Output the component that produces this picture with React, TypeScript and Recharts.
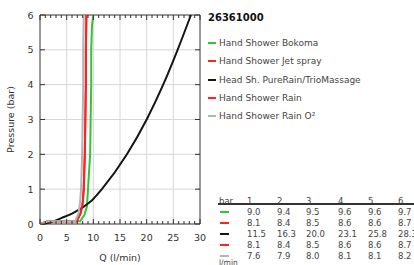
import React from "react";
import { LineChart, Line, XAxis, YAxis, CartesianGrid, ReferenceArea } from "recharts";

// pressure (bar) / flow (l/min)
const bokomaQ = [0, 1.5, 7.5, 8.3, 8.8, 9.0, 9.4, 9.5, 9.6, 9.6, 9.75, 10.0];
const bokomaP = [0, 0.08, 0.08, 0.25, 0.5, 1, 2, 3, 4, 5, 5.7, 6];
const jetQ = [0, 1.5, 6.9, 7.6, 8.0, 8.2, 8.4, 8.5, 8.6, 8.6, 8.7];
const jetP = [0, 0.08, 0.08, 0.3, 0.6, 1, 2, 3, 4, 5, 6];
const pureRainQ = [0, 2, 4, 6, 8.2, 10, 11.6, 16.3, 20.0, 23.1, 25.8, 28.3];
const pureRainP = [0, 0.05, 0.17, 0.3, 0.5, 0.72, 1, 2, 3, 4, 5, 6];
const rainQ = [0, 1.5, 6.9, 7.6, 8.0, 8.2, 8.4, 8.5, 8.6, 8.6, 8.7];
const rainP = [0, 0.08, 0.08, 0.3, 0.6, 1, 2, 3, 4, 5, 6];
const rainO2Q = [0, 1.5, 6.6, 7.2, 7.5, 7.7, 7.9, 8.0, 8.1, 8.1, 8.2];
const rainO2P = [0, 0.08, 0.08, 0.3, 0.6, 1, 2, 3, 4, 5, 6];

// table at the bottom right
const tableBars = ["1", "2", "3", "4", "5", "6"];
const bokomaRow = ["9.0", "9.4", "9.5", "9.6", "9.6", "9.7"];
const jetRow = ["8.1", "8.4", "8.5", "8.6", "8.6", "8.7"];
const pureRainRow = ["11.5", "16.3", "20.0", "23.1", "25.8", "28.3"];
const rainRow = ["8.1", "8.4", "8.5", "8.6", "8.6", "8.7"];
const rainO2Row = ["7.6", "7.9", "8.0", "8.1", "8.1", "8.2"];

const xTicks = Array.from({ length: 31 }, (_, i) => i);
const yTicks = [0, 1, 2, 3, 4, 5, 6];

const FONT = "'DejaVu Sans', sans-serif";
const TOP = 15;
const BOTTOM = 224;
const LEFT = 40;
const RIGHT = 200;

const series = [
  { name: "Hand Shower Bokoma", color: "#33c433", q: bokomaQ, p: bokomaP, row: bokomaRow },
  { name: "Hand Shower Jet spray", color: "#ff2222", q: jetQ, p: jetP, row: jetRow },
  { name: "Head Sh. PureRain/TrioMassage", color: "#151515", q: pureRainQ, p: pureRainP, row: pureRainRow },
  { name: "Hand Shower Rain", color: "#ff2222", q: rainQ, p: rainP, row: rainRow },
  { name: "Hand Shower Rain O²", color: "#b4b4b4", q: rainO2Q, p: rainO2P, row: rainO2Row },
];

const toPoints = (q: number[], p: number[]) => q.map((v, i) => ({ q: v, p: p[i] }));

const XTick = (props: any) => {
  const { x, payload } = props;
  const v = payload.value as number;
  const major = v % 5 === 0;
  const len = major ? 5 : 3;
  return (
    <g>
      <line x1={x} x2={x} y1={BOTTOM} y2={BOTTOM - len} stroke="#333" />
      <line x1={x} x2={x} y1={TOP} y2={TOP + len} stroke="#333" />
      {major && (
        <text x={x} y={241} textAnchor="middle" fontSize={9.5} fill="#333" fontFamily={FONT}>
          {v}
        </text>
      )}
    </g>
  );
};

const YTick = (props: any) => {
  const { y, payload } = props;
  return (
    <g>
      <line x1={LEFT} x2={LEFT + 5} y1={y} y2={y} stroke="#333" />
      <line x1={RIGHT - 5} x2={RIGHT} y1={y} y2={y} stroke="#333" />
      <text x={33.5} y={y + 3.5} textAnchor="end" fontSize={9.5} fill="#333" fontFamily={FONT}>
        {payload.value}
      </text>
    </g>
  );
};

const gridX = [5, 10, 15, 20, 25].map((v) => LEFT + (v / 30) * (RIGHT - LEFT));
const gridY = [1, 2, 3, 4, 5].map((v) => BOTTOM - (v / 6) * (BOTTOM - TOP));

const textStyle: React.CSSProperties = {
  position: "absolute",
  fontFamily: FONT,
  fontSize: 9,
  lineHeight: "12px",
  color: "#444",
  whiteSpace: "nowrap",
};

const colX = [247, 277, 306, 338, 368, 398];
const rowY = [211.5, 222.5, 233.5, 244.5, 256];

export default function App() {
  return (
    <div
      style={{
        position: "absolute",
        left: 0,
        top: 0,
        width: 414,
        height: 265,
        overflow: "hidden",
        background: "#fff",
      }}
    >
      <LineChart width={414} height={265} margin={{ top: TOP, right: 414 - RIGHT, bottom: 0, left: 0 }}>
        <CartesianGrid stroke="#d6d6d6" verticalPoints={gridX} horizontalPoints={gridY} />
        <XAxis
          type="number"
          dataKey="q"
          domain={[0, 30]}
          ticks={xTicks}
          interval={0}
          height={265 - BOTTOM}
          axisLine={false}
          tickLine={false}
          tick={<XTick />}
          label={{ value: "Q (l/min)", position: "insideBottom", offset: 4, fontSize: 9.5, fill: "#333", fontFamily: FONT }}
        />
        <YAxis
          type="number"
          dataKey="p"
          domain={[0, 6]}
          ticks={yTicks}
          width={LEFT}
          axisLine={false}
          tickLine={false}
          tick={<YTick />}
          label={{
            value: "Pressure (bar)",
            angle: -90,
            position: "insideLeft",
            offset: 11,
            fontSize: 9.5,
            fill: "#333",
            fontFamily: FONT,
            style: { textAnchor: "middle" },
          }}
        />
        {series.map((s, i) => (
          <Line
            key={i}
            data={toPoints(s.q, s.p)}
            dataKey="p"
            type={i === 2 ? "monotone" : "linear"}
            stroke={s.color}
            strokeWidth={2}
            dot={false}
            isAnimationActive={false}
          />
        ))}
        <ReferenceArea x1={0} x2={30} y1={0} y2={6} fill="none" stroke="#333" strokeWidth={1} />
      </LineChart>

      <div style={{ ...textStyle, left: 208, top: 12, fontSize: 10, fontWeight: "bold", color: "#111" }}>26361000</div>
      {series.map((s, i) => (
        <React.Fragment key={i}>
          <div style={{ position: "absolute", left: 208, top: 42 + i * 18.3, width: 8, height: 2, background: s.color }} />
          <div style={{ ...textStyle, left: 219, top: 37 + i * 18.3 }}>{s.name}</div>
        </React.Fragment>
      ))}

      <div style={{ ...textStyle, left: 219, top: 195, fontSize: 8.5 }}>bar</div>
      {tableBars.map((b, j) => (
        <div key={j} style={{ ...textStyle, left: colX[j], top: 195, fontSize: 8.5 }}>
          {b}
        </div>
      ))}
      <div style={{ position: "absolute", left: 218, top: 203, width: 200, height: 2, background: "#333" }} />
      {series.map((s, i) => (
        <React.Fragment key={i}>
          <div style={{ position: "absolute", left: 220, top: rowY[i] - 1, width: 9, height: 2, background: s.color }} />
          {s.row.map((v, j) => (
            <div key={j} style={{ ...textStyle, left: colX[j], top: rowY[i] - 6, fontSize: 8.5 }}>
              {v}
            </div>
          ))}
        </React.Fragment>
      ))}
      <div style={{ ...textStyle, left: 219, top: 257, fontSize: 7.5 }}>l/min</div>
    </div>
  );
}
